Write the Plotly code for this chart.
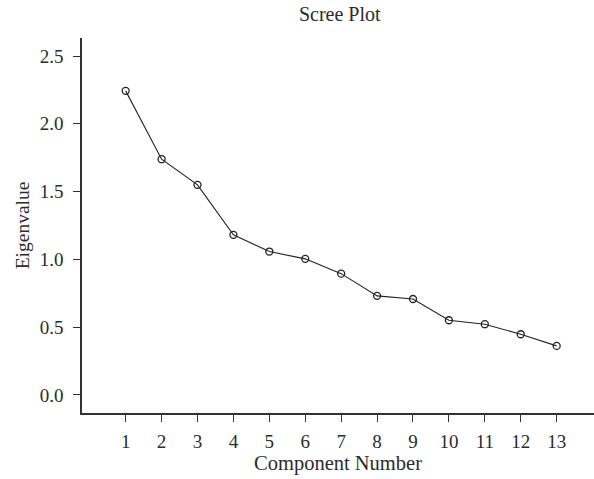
import plotly.graph_objects as go

components = list(range(1, 14))
eigenvalues = [2.243, 1.739, 1.55, 1.181, 1.058, 1.004, 0.895, 0.731, 0.708, 0.551, 0.522, 0.448, 0.362]
x_tick_labels = [str(c) for c in components]
y_tick_vals = [0.0, 0.5, 1.0, 1.5, 2.0, 2.5]
y_tick_labels = ["0.0", "0.5", "1.0", "1.5", "2.0", "2.5"]

FONT = "Liberation Serif"
AX = "#333333"
TXT = "#2b2b2b"

fig = go.Figure(go.Scatter(
    x=components, y=eigenvalues, mode="lines+markers",
    line=dict(color="#222222", width=1.1),
    marker=dict(symbol="circle-open", size=7, color="#222222", line=dict(width=1.3)),
    cliponaxis=False,
))

fig.update_layout(
    width=594, height=479,
    margin=dict(l=82, r=0, t=38, b=66),
    paper_bgcolor="white", plot_bgcolor="white",
    showlegend=False,
    font=dict(family=FONT, color=TXT, size=19),
    title=dict(text="Scree Plot", x=0.572, xanchor="center",
               y=1 - 14 / 479, yanchor="middle", font=dict(size=20, family=FONT, color=TXT)),
)
fig.update_xaxes(
    range=[-0.216, 14.04], tickmode="array", tickvals=components, ticktext=x_tick_labels,
    showgrid=False, zeroline=False, showline=True, linecolor=AX, linewidth=1.5,
    ticks="outside", ticklen=7, tickwidth=1.3, tickcolor=AX, ticklabelstandoff=3,
    tickfont=dict(size=19, family=FONT, color=TXT),
    title=dict(text="Component Number", font=dict(size=20.5, family=FONT, color=TXT), standoff=4),
)
fig.update_yaxes(
    range=[-0.133, 2.633], tickmode="array", tickvals=y_tick_vals, ticktext=y_tick_labels,
    showgrid=False, zeroline=False, showline=True, linecolor=AX, linewidth=1.5,
    ticks="outside", ticklen=7, tickwidth=1.3, tickcolor=AX, ticklabelstandoff=6,
    tickfont=dict(size=19, family=FONT, color=TXT),
    title=dict(text="Eigenvalue", font=dict(size=19.5, family=FONT, color=TXT), standoff=5),
)

fig.write_html("out.html")
